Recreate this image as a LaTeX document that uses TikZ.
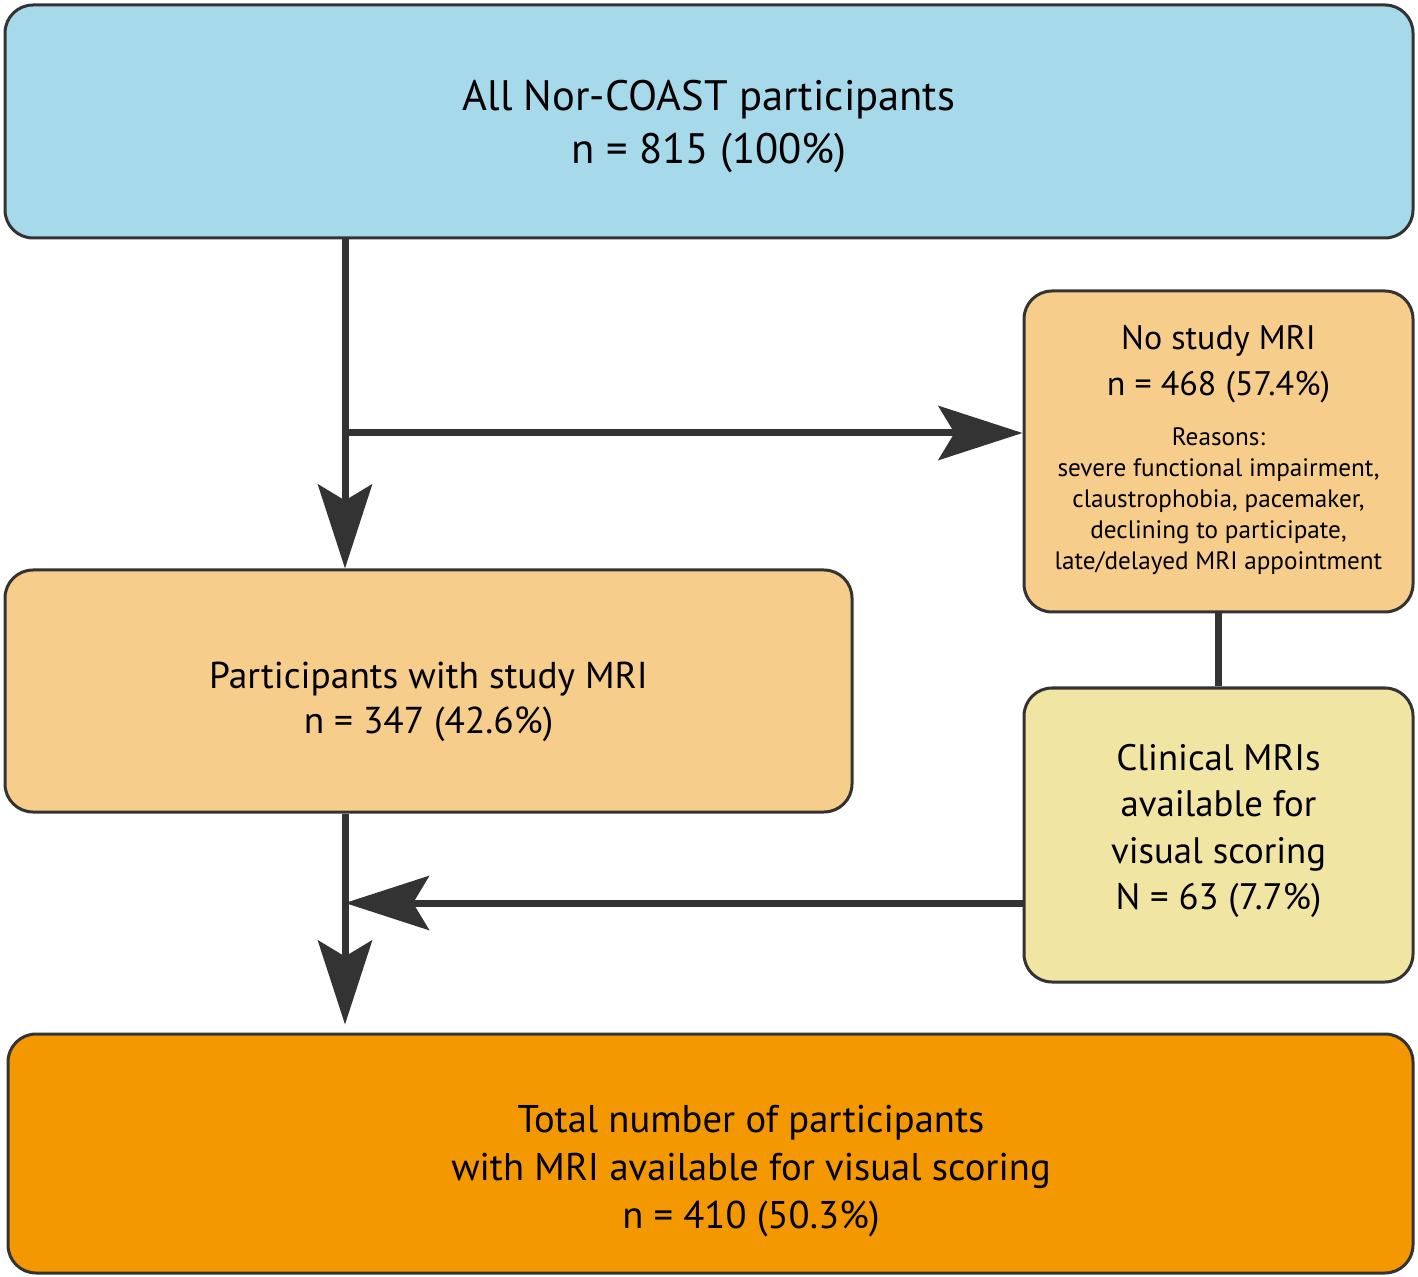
\documentclass[tikz,border=0pt]{standalone}
\usepackage{fontspec}
\setmainfont{PT Sans}
\usetikzlibrary{arrows.meta,calc}
\definecolor{cblue}{HTML}{A6D9EA}
\definecolor{clorange}{HTML}{F7CD8B}
\definecolor{cyellow}{HTML}{F1E5A3}
\definecolor{corange}{HTML}{F39800}
\definecolor{cline}{HTML}{333333}
\tikzset{
  box/.style={draw=cline, line width=1.5pt, rounded corners=14pt, inner sep=0pt},
  txt/.style={align=center, inner sep=0pt},
  conn/.style={draw=cline, line width=3.5pt},
  arr/.style={conn, -{Stealth[length=42pt, width=27pt, inset=8pt]}},
}
\begin{document}
\begin{tikzpicture}[x=0.5pt, y=-0.5pt]
\useasboundingbox (0,0) rectangle (1418,1277);
% boxes
\node[box, fill=cblue, minimum width=704pt, minimum height=116.5pt] (top) at (709,121.5) {};
\node[box, fill=clorange, minimum width=194.5pt, minimum height=160.5pt] (no) at (1218.5,451.5) {};
\node[box, fill=clorange, minimum width=423.5pt, minimum height=121pt] (with) at (428.5,691) {};
\node[box, fill=cyellow, minimum width=194.5pt, minimum height=147pt] (clin) at (1218.5,835) {};
\node[box, fill=corange, minimum width=702.5pt, minimum height=119.5pt] (total) at (710.5,1153.5) {};
% texts
\node[txt, font=\fontsize{21.3}{26.5}\selectfont] (toptxt) at (709,126.5)
  {All Nor-COAST participants\\ n = 815 (100\%)};
\node[txt, font=\fontsize{17}{23}\selectfont] (nohead) at (1218.5,364)
  {No study MRI\\ n = 468 (57.4\%)};
\node[txt, font=\fontsize{12.6}{15.5}\selectfont] (noreason) at (1218.5,501)
  {Reasons:\\ severe functional impairment,\\ claustrophobia, pacemaker,\\ declining to participate,\\ late/delayed MRI appointment};
\node[txt, font=\fontsize{18.7}{22.5}\selectfont] (withtxt) at (428.5,701.5)
  {Participants with study MRI\\ n = 347 (42.6\%)};
\node[txt, font=\fontsize{18.4}{23.3}\selectfont] (clintxt) at (1218.5,831)
  {Clinical MRIs\\ available for\\ visual scoring\\ N = 63 (7.7\%)};
\node[txt, font=\fontsize{19.3}{24}\selectfont] (totaltxt) at (751,1171.5)
  {Total number of participants\\ with MRI available for visual scoring\\ n = 410 (50.3\%)};
% connectors
\coordinate (j1) at (345,433);
\coordinate (j2) at (345,903);
\draw[arr] (top.south -| j1) -- (with.north -| j1);
\draw[arr] (j1) -- (no.west |- j1);
\draw[conn] (no.south) -- (clin.north);
\draw[arr] (with.south -| j2) -- ($(total.north -| j2)+(0,-8)$);
\draw[arr] (clin.west |- j2) -- (j2);
\end{tikzpicture}
\end{document}
